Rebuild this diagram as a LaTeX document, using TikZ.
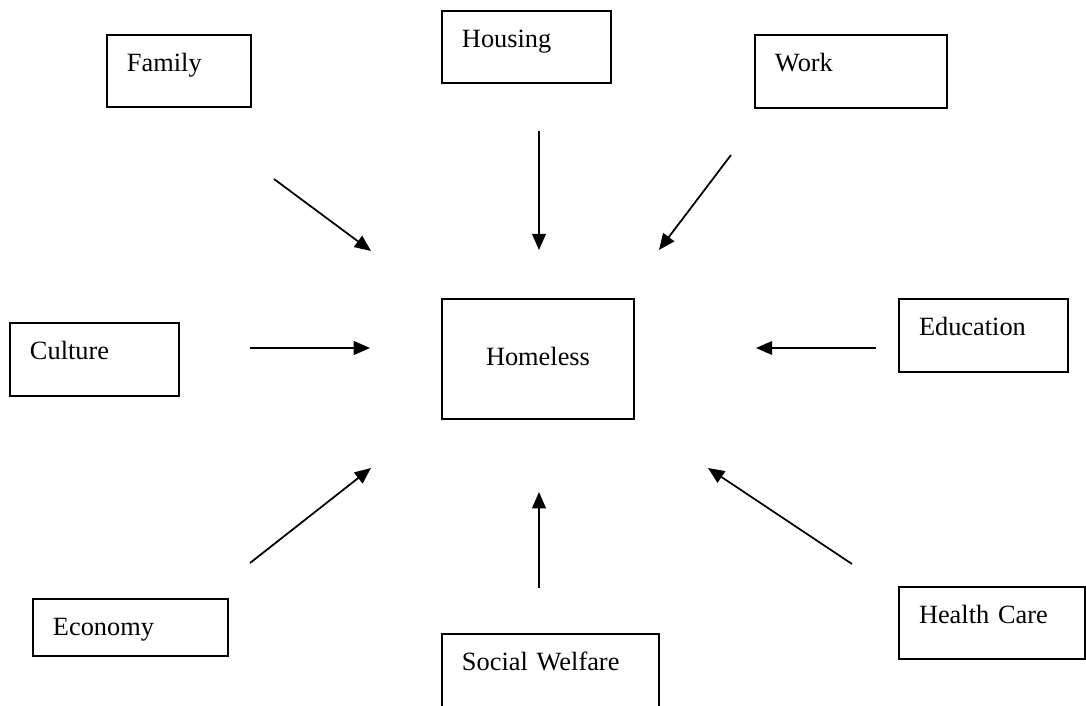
\documentclass[tikz,border=0pt]{standalone}
\usepackage{fontspec}
\setmainfont{Liberation Serif}
\usetikzlibrary{arrows.meta}

\begin{document}
\begin{tikzpicture}[
  every node/.style={font=\fontsize{12}{14.4}\selectfont},
  factor/.style={rectangle, draw=black, line width=0.9pt, inner xsep=0.32cm,
                 inner ysep=0pt, text height=0.576cm, align=left},
  centre/.style={rectangle, draw=black, line width=0.9pt, inner xsep=0.32cm,
                 inner ysep=0pt, text width=2.432cm, text height=1.056cm,
                 text depth=0.864cm, align=center},
  cause/.style={line width=0.8pt, -{Triangle[length=0.26cm, width=0.22cm]}},
]

\clip (-8.608,5.744) rectangle (8.768,-5.536);

\node[centre] (home) at (0,0) {Homeless};

% ── Top row ──
\node[factor, text width=1.664cm, text depth=0.576cm] (family)  at (-5.744,4.608) {Family};
\node[factor, text width=2.064cm, text depth=0.576cm] (housing) at (-0.184,4.992) {Housing};
\node[factor, text width=2.432cm, text depth=0.592cm] (work)    at (5.008,4.6)    {Work};

% ── Middle row ──
\node[factor, text width=2.064cm, text depth=0.592cm] (culture) at (-7.096,-0.008) {Culture};
\node[factor, text width=2.064cm, text depth=0.592cm] (edu)     at (7.128,0.376)   {Education};

% ── Bottom row ──
\node[factor, text width=2.48cm,  text depth=0.336cm] (economy) at (-6.52,-4.296) {Economy};
\node[factor, text width=2.832cm, text depth=0.592cm] (welfare) at (0.2,-4.984)   {Social Welfare};
\node[factor, text width=2.336cm, text depth=0.576cm] (health)  at (7.264,-4.224) {Health Care};

% ── Arrows into the centre ──
\coordinate (family-s)  at (-4.224,2.88);  \coordinate (family-e)  at (-2.672,1.728);
\coordinate (housing-s) at (0.016,3.648);  \coordinate (housing-e) at (0.016,1.744);
\coordinate (work-s)    at (3.088,3.264);  \coordinate (work-e)    at (1.936,1.744);
\coordinate (culture-s) at (-4.608,0.176); \coordinate (culture-e) at (-2.688,0.176);
\coordinate (edu-s)     at (5.408,0.176);  \coordinate (edu-e)     at (3.488,0.176);
\coordinate (economy-s) at (-4.608,-3.264);\coordinate (economy-e) at (-2.672,-1.744);
\coordinate (welfare-s) at (0.016,-3.664); \coordinate (welfare-e) at (0.016,-2.128);
\coordinate (health-s)  at (5.024,-3.28);  \coordinate (health-e)  at (2.72,-1.744);

\draw[cause] (family-s) -- (family-e);
\draw[cause] (housing-s) -- (housing-e);
\draw[cause] (work-s) -- (work-e);
\draw[cause] (culture-s) -- (culture-e);
\draw[cause] (edu-s) -- (edu-e);
\draw[cause] (economy-s) -- (economy-e);
\draw[cause] (welfare-s) -- (welfare-e);
\draw[cause] (health-s) -- (health-e);

\end{tikzpicture}
\end{document}
